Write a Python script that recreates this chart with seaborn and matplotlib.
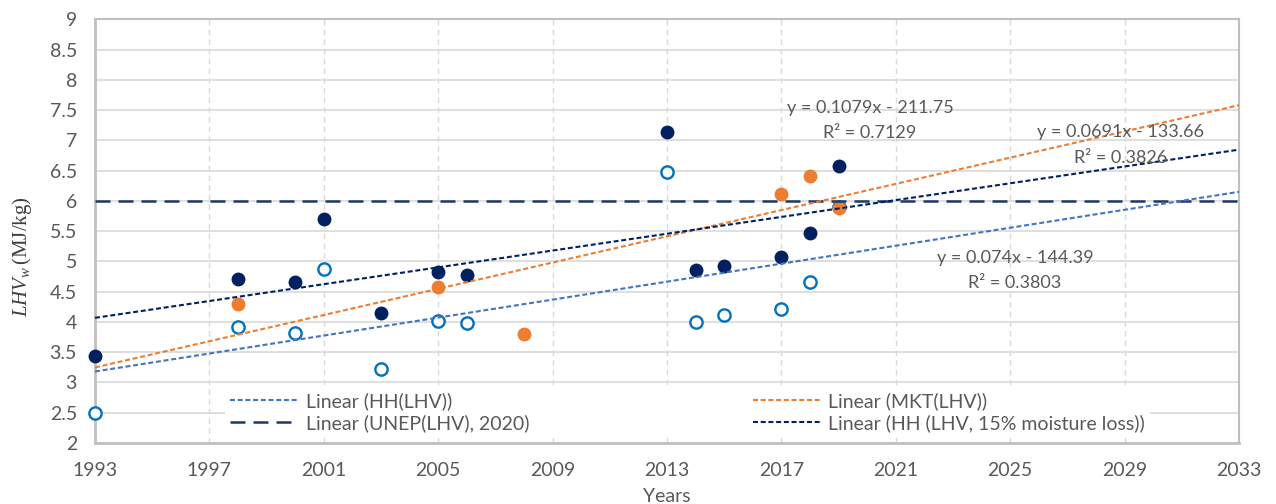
import numpy as np
import pandas as pd
import matplotlib
matplotlib.use('Agg')
import matplotlib.pyplot as plt
from matplotlib.ticker import MultipleLocator, FuncFormatter
import seaborn as sns

# --- Data ---
YEARS_HH = [1993, 1998, 2000, 2001, 2003, 2005, 2006, 2013, 2014, 2015, 2017, 2018, 2019]
LHV_HH = [2.49, 3.91, 3.82, 4.88, 3.22, 4.02, 3.98, 6.47, 4.00, 4.11, 4.22, 4.66, 5.90]

YEARS_HH15 = [1993, 1998, 2000, 2001, 2003, 2005, 2006, 2013, 2014, 2015, 2017, 2018, 2019]
LHV_HH15 = [3.43, 4.71, 4.66, 5.70, 4.15, 4.83, 4.78, 7.13, 4.85, 4.92, 5.08, 5.47, 6.58]

YEARS_MKT = [1998, 2005, 2008, 2017, 2018, 2019]
LHV_MKT = [4.29, 4.57, 3.80, 6.12, 6.41, 5.89]

UNEP_LHV = 6.0  # UNEP (2020) reference value

X_MIN, X_MAX = 1993, 2033
Y_MIN, Y_MAX = 2, 9
X_TICKS = list(range(X_MIN, X_MAX + 1, 4))

# --- Colours ---
NAVY = '#002060'
ORANGE = '#ED7D31'
OPEN_BLUE = '#0070C0'
TREND_BLUE = '#4472C4'
UNEP_NAVY = '#1F3864'
GRID = '#D9D9D9'
AXIS = '#BFBFBF'
TEXT = '#595959'

sns.set_style('white')
plt.rcParams['font.family'] = ['Lato', 'DejaVu Sans']
plt.rcParams['mathtext.fontset'] = 'custom'
plt.rcParams['mathtext.it'] = 'Liberation Serif:italic'
plt.rcParams['mathtext.rm'] = 'Liberation Serif'

fig = plt.figure(figsize=(12.76, 5.04), dpi=100)
ax = fig.add_axes([95 / 1276, 1 - 443 / 504, 1144 / 1276, 423.7 / 504])
ax.set_xlim(X_MIN, X_MAX)
ax.set_ylim(Y_MIN, Y_MAX)

hh_df = pd.DataFrame({'Year': YEARS_HH, 'LHV': LHV_HH})
hh15_df = pd.DataFrame({'Year': YEARS_HH15, 'LHV': LHV_HH15})
mkt_df = pd.DataFrame({'Year': YEARS_MKT, 'LHV': LHV_MKT})

# scatter markers
sns.scatterplot(data=hh_df, x='Year', y='LHV', ax=ax, s=78, facecolor='white',
                edgecolor=OPEN_BLUE, linewidth=1.7, zorder=3, legend=False, clip_on=False)
sns.scatterplot(data=hh15_df, x='Year', y='LHV', ax=ax, s=100, color=NAVY,
                linewidth=0, zorder=3, legend=False, clip_on=False)
sns.scatterplot(data=mkt_df, x='Year', y='LHV', ax=ax, s=100, color=ORANGE,
                linewidth=0, zorder=3, legend=False, clip_on=False)

# trend lines (fitted, extended across the whole axis)
short_dash = (0, (2.4, 1.3))
sns.regplot(data=hh_df, x='Year', y='LHV', ax=ax, scatter=False, ci=None, truncate=False,
            color=TREND_BLUE, label='Linear (HH(LHV))',
            line_kws=dict(lw=1.5, ls=short_dash, zorder=5))
sns.regplot(data=mkt_df, x='Year', y='LHV', ax=ax, scatter=False, ci=None, truncate=False,
            color=ORANGE, label='Linear (MKT(LHV))',
            line_kws=dict(lw=1.5, ls=short_dash, zorder=5))
sns.regplot(data=hh15_df, x='Year', y='LHV', ax=ax, scatter=False, ci=None, truncate=False,
            color=NAVY, label='Linear (HH (LHV, 15% moisture loss))',
            line_kws=dict(lw=1.5, ls=short_dash, zorder=5))
ax.axhline(UNEP_LHV, color=UNEP_NAVY, lw=1.8, ls=(0, (6, 3.2)), zorder=4,
           label='Linear (UNEP(LHV), 2020)')

ax.set_xlim(X_MIN, X_MAX)
ax.set_ylim(Y_MIN, Y_MAX)

# trendline equations
eq_style = dict(ha='center', va='center', fontsize=13, color=TEXT, zorder=6)
ax.text(2020.1, 7.53, 'y = 0.1079x - 211.75', **eq_style)
ax.text(2020.1, 7.12, 'R² = 0.7129', **eq_style)
ax.text(2028.85, 7.14, 'y = 0.0691x - 133.66', **eq_style)
ax.text(2028.85, 6.71, 'R² = 0.3826', **eq_style)
ax.text(2025.17, 5.06, 'y = 0.074x - 144.39', **eq_style)
ax.text(2025.17, 4.64, 'R² = 0.3803', **eq_style)

# axes styling
ax.set_xticks(X_TICKS)
ax.xaxis.set_minor_locator(MultipleLocator(1))
ax.yaxis.set_major_locator(MultipleLocator(0.5))
ax.yaxis.set_major_formatter(FuncFormatter(lambda v, p: f'{v:g}'))

ax.grid(axis='y', color=GRID, lw=1.2, ls='-', zorder=0)
ax.grid(axis='x', which='major', color=GRID, lw=1.0, ls=(0, (4, 3)), zorder=0)
ax.set_axisbelow(True)

for side in ['top', 'right']:
    ax.spines[side].set_color(AXIS)
    ax.spines[side].set_linewidth(1.5)
for side in ['left', 'bottom']:
    ax.spines[side].set_color(AXIS)
    ax.spines[side].set_linewidth(2.0)

ax.tick_params(axis='x', which='both', direction='in', length=5, width=1.2,
               color=AXIS, labelsize=14, labelcolor=TEXT, pad=14)
ax.tick_params(axis='y', which='both', length=0, labelsize=14, labelcolor=TEXT, pad=13)

ax.set_xlabel('Years', fontsize=14, color=TEXT, labelpad=6)
ax.set_ylabel('')
fig.text(22 / 1276, 1 - 257 / 504, r'$LHV_w\,$(MJ/kg)', rotation=90, ha='center',
         va='center', fontsize=15, color='#404040', family='Liberation Serif')

# legend: trendlines only, two columns
handles, labels = ax.get_legend_handles_labels()
order = ['Linear (HH(LHV))', 'Linear (UNEP(LHV), 2020)',
         'Linear (MKT(LHV))', 'Linear (HH (LHV, 15% moisture loss))']
hmap = dict(zip(labels, handles))
leg = ax.legend([hmap[k] for k in order], order, ncol=2, loc='center',
                bbox_to_anchor=(130 / 1144, 31 / 423.7, 925 / 1144, 0), mode='expand',
                fontsize=14, frameon=True, facecolor='white', edgecolor='none',
                fancybox=False, framealpha=1, borderpad=0.25, borderaxespad=0,
                handlelength=3.5, handletextpad=0.4, labelspacing=0.2)
for t in leg.get_texts():
    t.set_color(TEXT)
leg.set_zorder(7)

fig.savefig('out.png', dpi=100)
